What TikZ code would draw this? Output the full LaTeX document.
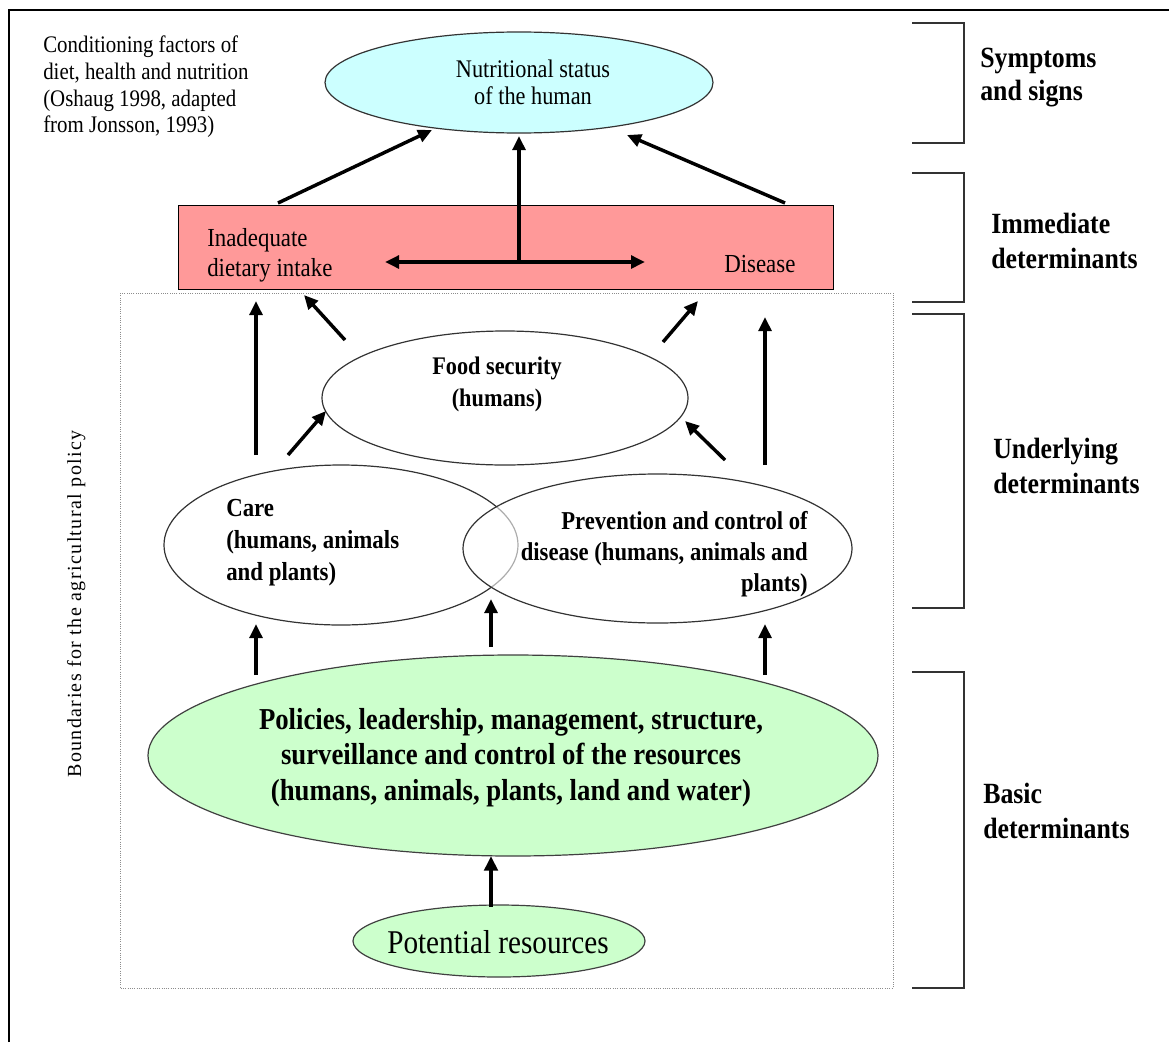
\documentclass[tikz,border=0pt]{standalone}
\usepackage{fontspec}
\setmainfont{Liberation Serif}
\newfontfamily\cf[FakeStretch=0.88]{Liberation Serif}
\newfontfamily\bndfont[LetterSpace=7]{Liberation Serif}
\usetikzlibrary{shapes.geometric,arrows.meta}
\definecolor{cyanfill}{HTML}{CCFFFF}
\definecolor{redfill}{HTML}{FF9999}
\definecolor{greenfill}{HTML}{CCFFCC}
\tikzset{
  ell/.style={ellipse, draw=black!80, line width=0.9pt, inner sep=0pt},
  arr/.style={-{Triangle[length=10.5pt,width=9.5pt]}, line width=2.6pt},
  bigarr/.style={-{Triangle[length=11pt,width=10pt]}, line width=3.2pt},
  bracket/.style={draw=black!80, line width=1.3pt},
  txt/.style={inner sep=0pt},
}
\begin{document}
\begin{tikzpicture}[x=0.75pt,y=-0.75pt]
\useasboundingbox (0,0) rectangle (1169,1042);
% outer frame
\draw[line width=1.5pt] (9,1042) -- (9,10) -- (1169,10);

% dotted boundary box
\draw[draw=black!45, line width=0.7pt, densely dotted] (120,293) rectangle (893,988);

% title
\node[txt, anchor=north west, align=left, font=\cf\fontsize{17.8}{20}\selectfont] (title) at (43,36)
  {Conditioning factors of\\diet, health and nutrition\\(Oshaug 1998, adapted\\from Jonsson, 1993)};

% nutritional status
\node[ell, fill=cyanfill, minimum width=291pt, minimum height=75.75pt] (nut) at (519,82.5) {};
\node[txt, anchor=north, align=center, font=\cf\fontsize{19}{20.5}\selectfont] (nuttxt) at (533,59.5)
  {Nutritional status\\of the human};

% immediate determinants rectangle
\node[draw=black, line width=0.7pt, fill=redfill, minimum width=491.25pt, minimum height=63pt, inner sep=0pt] (rect) at (505.5,247) {};
\node[txt, anchor=north west, align=left, font=\cf\fontsize{19.5}{22.5}\selectfont] (inad) at (207,228)
  {Inadequate\\dietary intake};
\node[txt, anchor=base west, font=\cf\fontsize{19.5}{22.5}\selectfont] (dis) at (724,272) {Disease};

% food security
\node[ell, minimum width=274.5pt, minimum height=100.5pt] (food) at (505,398) {};
\node[txt, anchor=north, align=center, font=\cf\bfseries\fontsize{19}{24}\selectfont] (foodtxt) at (497,357)
  {Food security\\(humans)};

% care and prevention
\node[ell, minimum width=265.5pt, minimum height=120pt] (care) at (341,545) {};
\node[ell, fill=white, fill opacity=0.6, minimum width=291.75pt, minimum height=111.75pt] (prev) at (657.5,548.5) {};
\node[txt, anchor=north west, align=left, font=\cf\bfseries\fontsize{19.5}{24}\selectfont] (caretxt) at (226,499)
  {Care\\(humans, animals\\and plants)};
\node[txt, anchor=north east, align=right, font=\cf\bfseries\fontsize{19.3}{23.3}\selectfont] (prevtxt) at (808,511)
  {Prevention and control of\\disease (humans, animals and\\plants)};

% basic determinants
\node[ell, draw=black!75, fill=greenfill, minimum width=547.5pt, minimum height=150.75pt] (basic) at (513,755.5) {};
\node[txt, anchor=north, align=center, font=\cf\bfseries\fontsize{22.8}{26.6}\selectfont] (basictxt) at (511,708)
  {Policies, leadership, management, structure,\\surveillance and control of the resources\\(humans, animals, plants, land and water)};

% potential resources
\node[ell, draw=black!75, fill=greenfill, minimum width=219pt, minimum height=54pt] (pot) at (499,941) {};
\node[txt, anchor=base, font=\cf\fontsize{24.9}{26}\selectfont] (pottxt) at (498,953) {Potential resources};

% boundaries label
\node[txt, rotate=90, anchor=base, font=\bndfont\fontsize{15}{16}\selectfont] (bnd) at (81,604)
  {Boundaries for the agricultural policy};

% arrows: immediate -> nutritional status
\coordinate (a1s) at (278,203); \coordinate (a1e) at (432,130);
\coordinate (a2s) at (519,262); \coordinate (a2e) at (519,136);
\coordinate (a3s) at (785,203); \coordinate (a3e) at (627,135);
\draw[arr] (a1s) -- (a1e);
\draw[arr] (a2s) -- (a2e);
\draw[arr] (a3s) -- (a3e);
\coordinate (hl) at (385,262); \coordinate (hr) at (645,262);
\draw[line width=2.6pt, {Triangle[length=10.5pt,width=9.5pt]}-{Triangle[length=10.5pt,width=9.5pt]}] (hl) -- (hr);

% underlying -> immediate
\coordinate (b1s) at (256,455); \coordinate (b1e) at (256,301);
\coordinate (b2s) at (345,340); \coordinate (b2e) at (304,295);
\coordinate (b3s) at (288,455); \coordinate (b3e) at (326,411);
\coordinate (b4s) at (663,342); \coordinate (b4e) at (698,301);
\coordinate (b5s) at (725,460); \coordinate (b5e) at (685,421);
\coordinate (b6s) at (765,465); \coordinate (b6e) at (765,317);
\draw[arr] (b1s) -- (b1e);
\draw[arr] (b2s) -- (b2e);
\draw[arr] (b3s) -- (b3e);
\draw[arr] (b4s) -- (b4e);
\draw[arr] (b5s) -- (b5e);
\draw[arr] (b6s) -- (b6e);

% basic -> underlying
\coordinate (c1s) at (256,675); \coordinate (c1e) at (256,624);
\coordinate (c2s) at (491,647); \coordinate (c2e) at (491,599);
\coordinate (c3s) at (765,675); \coordinate (c3e) at (765,624);
\draw[arr] (c1s) -- (c1e);
\draw[arr] (c2s) -- (c2e);
\draw[arr] (c3s) -- (c3e);

% potential -> basic
\coordinate (ds) at (491,907); \coordinate (de) at (491,856);
\draw[bigarr] (ds) -- (de);

% brackets
\draw[bracket] (912,23) -- (964,23) -- (964,143) -- (912,143);
\draw[bracket] (912,173) -- (964,173) -- (964,302) -- (912,302);
\draw[bracket] (912,314) -- (964,314) -- (964,608) -- (912,608);
\draw[bracket] (912,672) -- (964,672) -- (964,988) -- (912,988);

\node[txt, anchor=north west, align=left, font=\cf\bfseries\fontsize{22}{24.5}\selectfont] (l1) at (980,48) {Symptoms\\and signs};
\node[txt, anchor=north west, align=left, font=\cf\bfseries\fontsize{22}{26}\selectfont] (l2) at (991,213) {Immediate\\determinants};
\node[txt, anchor=north west, align=left, font=\cf\bfseries\fontsize{22}{26}\selectfont] (l3) at (993,438) {Underlying\\determinants};
\node[txt, anchor=north west, align=left, font=\cf\bfseries\fontsize{22}{26}\selectfont] (l4) at (983,783) {Basic\\determinants};
\end{tikzpicture}
\end{document}
